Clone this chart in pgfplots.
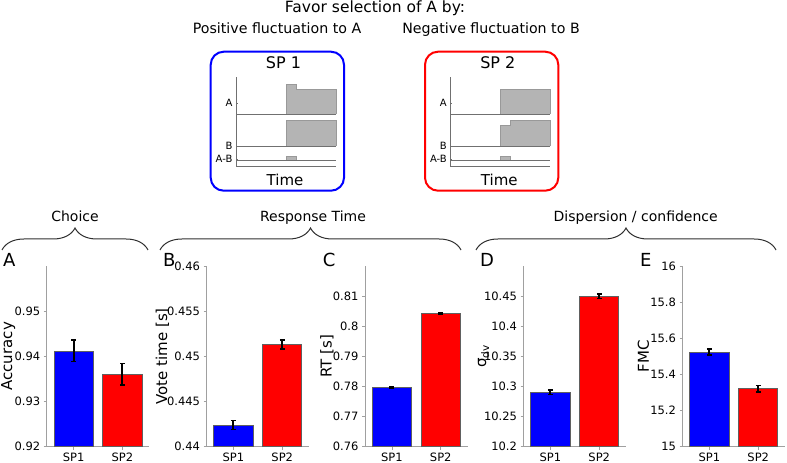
\documentclass[border=0pt]{standalone}
\usepackage{fontspec}
\setmainfont{DejaVu Sans}
\usepackage{pgfplots}
\pgfplotsset{compat=1.18}
\usetikzlibrary{decorations.pathreplacing}

\definecolor{spine}{HTML}{A0A0A0}
\definecolor{edge}{HTML}{606060}
\definecolor{fillg}{HTML}{B4B4B4}
\definecolor{lineg}{HTML}{707070}
\definecolor{brc}{HTML}{303030}

\pgfplotsset{
  panel/.style={
    scale only axis, anchor=south west,
    width=102.6pt, height=180.7pt,
    xmin=-0.55, xmax=1.55,
    xtick={0,1}, xticklabels={SP1,SP2},
    axis x line*=bottom, axis y line*=left,
    axis line style={-, spine, line width=0.9pt},
    tick style={spine, line width=0.7pt},
    tick align=outside, major tick length=3pt,
    ybar, bar width=39.1pt, bar shift=0pt,
    scaled y ticks=false,
    /pgf/number format/assume math mode=true,
    /pgf/number format/precision=3,
    tick label style={font=\fontsize{11.5}{13}\selectfont},
    ylabel style={at={(axis description cs:0,0.5)}, anchor=center,
      font=\fontsize{15}{17}\selectfont},
  },
  sp/.style={draw=edge, line width=0.8pt, fill=#1,
    error bars/.cd, y dir=both, y explicit,
    error bar style={black, line width=2pt},
    error mark options={black, rotate=90, mark size=2.4pt, line width=1.8pt}},
  mini/.style={
    scale only axis, anchor=south west, width=100pt, height=90pt,
    ymin=296.3, ymax=386.3,
    axis x line=bottom, axis y line=left,
    axis line style={-, lineg, line width=0.8pt},
    xtick=\empty, ytick={303.7,317,359.7}, yticklabels={A-B,B,A},
    tick align=inside, major tick length=2pt, tick style={lineg},
    tick label style={font=\fontsize{10}{11}\selectfont}, clip=false},
  trace/.style={lineg, line width=0.8pt},
  area/.style={draw=fillg!85!black, line width=0.4pt, fill=fillg},
}

\begin{document}
\begin{tikzpicture}[x=1pt,y=1pt]
\path[use as bounding box] (0,0) rectangle (787,463);

% header
\node[anchor=base, font=\fontsize{15.5}{17}\selectfont] at (375,450) {Favor selection of A by:};
\node[anchor=base, font=\fontsize{14.2}{16}\selectfont] at (277,429.5) {Positive fluctuation to A};
\node[anchor=base, font=\fontsize{14.2}{16}\selectfont] at (491,429.5) {Negative fluctuation to B};

\draw[blue, line width=2pt, rounded corners=13pt] (210.7,272.3) rectangle (344,411.3);
\draw[red, line width=2pt, rounded corners=13pt] (425,272.3) rectangle (558.3,411.3);
\node[anchor=base, font=\fontsize{16}{18}\selectfont] at (283.5,394.7) {SP 1};
\node[anchor=base, font=\fontsize{16}{18}\selectfont] at (497.8,394.7) {SP 2};
\node[anchor=base, font=\fontsize{15}{17}\selectfont] at (285,277) {Time};
\node[anchor=base, font=\fontsize{15}{17}\selectfont] at (499.3,277) {Time};

% schematic SP1
\begin{axis}[mini, at={(236pt,296.3pt)}, xmin=236, xmax=336]
\addplot[area] coordinates {(286,348.7)(286,378.7)(296.5,378.7)(296.5,373.7)(336,373.7)(336,348.7)};
\addplot[area] coordinates {(286,317)(286,342.7)(336,342.7)(336,317)};
\addplot[area] coordinates {(286,302.3)(286,307)(296.5,307)(296.5,302.3)};
\addplot[trace] coordinates {(236,348.7)(336,348.7)};
\addplot[trace] coordinates {(236,317)(336,317)};
\addplot[trace] coordinates {(236,302.3)(336,302.3)};
\end{axis}

% schematic SP2
\begin{axis}[mini, at={(450.3pt,296.3pt)}, xmin=450.3, xmax=550.3]
\addplot[area] coordinates {(500,348.7)(500,373.7)(550.3,373.7)(550.3,348.7)};
\addplot[area] coordinates {(500,317)(500,337.3)(510.5,337.3)(510.5,342.7)(550.3,342.7)(550.3,317)};
\addplot[area] coordinates {(500,302.3)(500,307)(510.5,307)(510.5,302.3)};
\addplot[trace] coordinates {(450.3,348.7)(550.3,348.7)};
\addplot[trace] coordinates {(450.3,317)(550.3,317)};
\addplot[trace] coordinates {(450.3,302.3)(550.3,302.3)};
\end{axis}

% braces
\draw[brc, line width=1pt, decorate, decoration={brace, amplitude=22pt}] (2,213) -- (148,213);
\draw[brc, line width=1pt, decorate, decoration={brace, amplitude=22pt}] (160,213) -- (461,213);
\draw[brc, line width=1pt, decorate, decoration={brace, amplitude=22pt}] (476,213) -- (776,213);
\node[anchor=base, font=\fontsize{14}{16}\selectfont] at (75,241.3) {Choice};
\node[anchor=base, font=\fontsize{14}{16}\selectfont] at (313,241.3) {Response Time};
\node[anchor=base, font=\fontsize{14}{16}\selectfont] at (635.7,241.3) {Dispersion / confidence};

% panel letters
\node[anchor=base west, inner sep=0, font=\fontsize{18}{20}\selectfont] at (3,196.5) {A};
\node[anchor=base west, inner sep=0, font=\fontsize{18}{20}\selectfont] at (163,196.5) {B};
\node[anchor=base west, inner sep=0, font=\fontsize{18}{20}\selectfont] at (322.7,196.5) {C};
\node[anchor=base west, inner sep=0, font=\fontsize{18}{20}\selectfont] at (480,196.5) {D};
\node[anchor=base west, inner sep=0, font=\fontsize{18}{20}\selectfont] at (640,196.5) {E};

% A
\begin{axis}[panel, at={(46.7pt,16.3pt)}, ymin=0.92, ymax=0.96,
  ytick={0.92,0.93,0.94,0.95}, ylabel={Accuracy}, ylabel style={yshift=38.4pt}]
\addplot[sp=blue] coordinates {(0,0.9412) +- (0,0.00235)};
\addplot[sp=red] coordinates {(1,0.9360) +- (0,0.0024)};
\end{axis}

% B
\begin{axis}[panel, at={(206.5pt,16.3pt)}, ymin=0.44, ymax=0.46,
  ytick={0.44,0.445,0.45,0.455,0.46}, ylabel={Vote time [s]}, ylabel style={yshift=44pt}]
\addplot[sp=blue] coordinates {(0,0.4424) +- (0,0.0005)};
\addplot[sp=red] coordinates {(1,0.4513) +- (0,0.0005)};
\end{axis}

% C
\begin{axis}[panel, at={(365pt,16.3pt)}, ymin=0.76, ymax=0.82,
  ytick={0.76,0.77,0.78,0.79,0.8,0.81}, ylabel={RT [s]}, ylabel style={yshift=38pt}]
\addplot[sp=blue] coordinates {(0,0.7796) +- (0,0.0002)};
\addplot[sp=red] coordinates {(1,0.8042) +- (0,0.0002)};
\end{axis}

% D
\begin{axis}[panel, at={(523.5pt,16.3pt)}, ymin=10.2, ymax=10.5,
  ytick={10.2,10.25,10.3,10.35,10.4,10.45}, ylabel={σ\textsubscript{dv}}, ylabel style={yshift=40pt}]
\addplot[sp=blue] coordinates {(0,10.290) +- (0,0.0035)};
\addplot[sp=red] coordinates {(1,10.450) +- (0,0.004)};
\end{axis}

% E
\begin{axis}[panel, at={(682.5pt,16.3pt)}, ymin=15, ymax=16,
  ytick={15,15.2,15.4,15.6,15.8,16}, ylabel={FMC}, ylabel style={yshift=39pt}]
\addplot[sp=blue] coordinates {(0,15.523) +- (0,0.016)};
\addplot[sp=red] coordinates {(1,15.320) +- (0,0.019)};
\end{axis}
\end{tikzpicture}
\end{document}
